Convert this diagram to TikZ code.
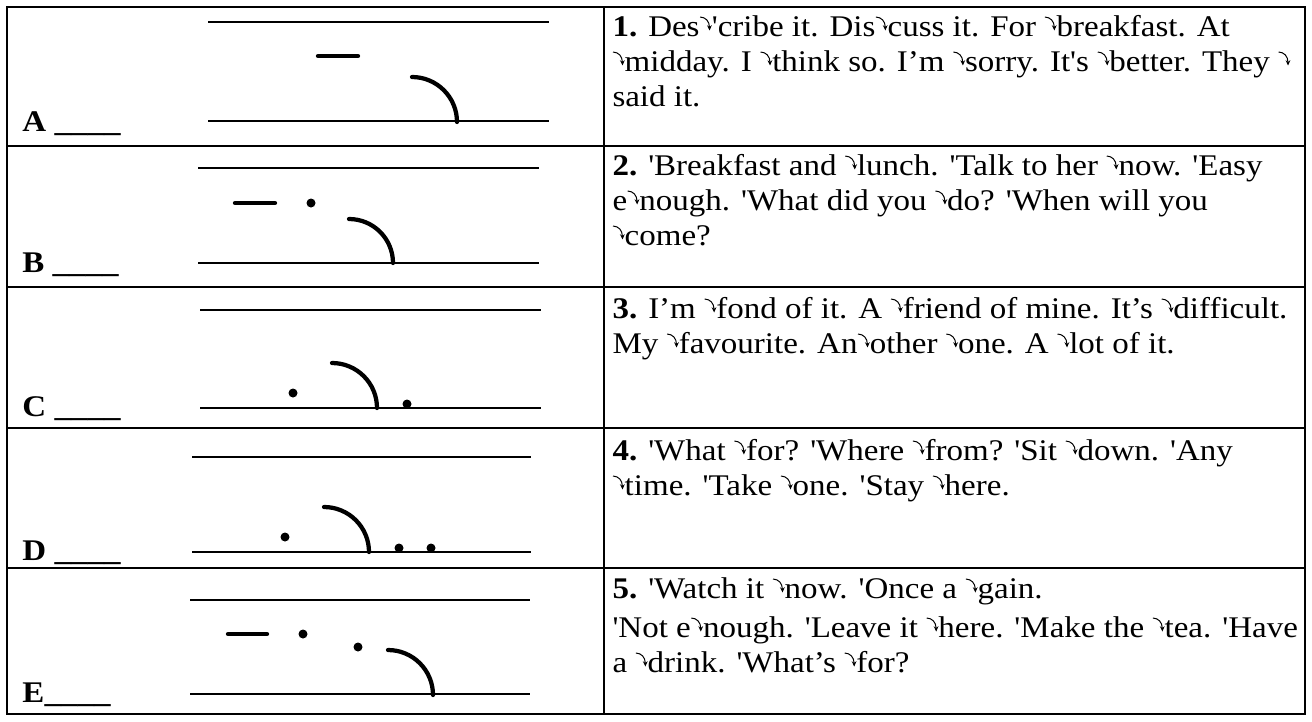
\documentclass[tikz,border=0pt]{standalone}
\usepackage{fontspec}
\newfontfamily\tnr{Liberation Serif}[FakeStretch=1.1]
\usetikzlibrary{arrows.meta}
\newcommand\fa{\tikz[baseline=0pt,x=1pt,y=1pt]\draw[line width=0.4pt,-{Stealth[length=2.1pt,width=1.9pt]}] (0.2,7.6) .. controls (2.4,7.5) and (3.9,6) .. (4,2.2);}
\newcommand\fallarc[3]{\draw[tonebar] (#1,#2) .. controls ({#1+0.552*#3},#2) and ({#1+#3},{#2+0.448*#3}) .. ({#1+#3},{#2+#3});}
\begin{document}
\begin{tikzpicture}[x=0.4pt,y=-0.4pt,
  border/.style={line width=1.1pt},
  staffline/.style={line width=0.6pt},
  tonebar/.style={line width=1.7pt,line cap=round},
  tdot/.style={fill=black},
  txt/.style={anchor=base west,inner sep=0pt,font=\tnr\fontsize{12pt}{14pt}\selectfont},
  lbl/.style={anchor=base west,inner sep=0pt,font=\tnr\bfseries\fontsize{12pt}{14pt}\selectfont}]
\useasboundingbox (0,0) rectangle (1312,721);
% table
\draw[border] (7,7) rectangle (1305,714);
\draw[border] (604,7) -- (604,714);
\foreach \yy in {146,287,428,568} \draw[border] (7,\yy) -- (1305,\yy);
% labels
\node[lbl] (la) at (22,131) {A \_\_\_\_};
\node[lbl] (lb) at (22,272) {B \_\_\_\_};
\node[lbl] (lc) at (22,416) {C \_\_\_\_};
\node[lbl] (ld) at (22,560) {D \_\_\_\_};
\node[lbl] (le) at (22,702) {E\_\_\_\_};
% row A
\draw[staffline] (208,22) -- (549,22);
\draw[staffline] (208,121) -- (549,121);
\draw[tonebar] (318,56) -- (358,56);
\fallarc{412}{77}{45}
% row B
\draw[staffline] (198,168) -- (539,168);
\draw[staffline] (198,263) -- (539,263);
\draw[tonebar] (235,203) -- (275,203);
\fill[tdot] (311,203) circle[radius=4.5];
\fallarc{349}{219}{44}
% row C
\draw[staffline] (200,310) -- (541,310);
\draw[staffline] (200,408) -- (541,408);
\fill[tdot] (293,393) circle[radius=4.5];
\fallarc{332}{363}{45}
\fill[tdot] (407,404) circle[radius=4.5];
% row D
\draw[staffline] (192,457) -- (531,457);
\draw[staffline] (192,552) -- (531,552);
\fill[tdot] (285,537) circle[radius=4.5];
\fallarc{324}{507}{45}
\fill[tdot] (399,548) circle[radius=4.5];
\fill[tdot] (431,548) circle[radius=4.5];
% row E
\draw[staffline] (190,600) -- (530,600);
\draw[staffline] (190,694) -- (530,694);
\draw[tonebar] (228,634) -- (267,634);
\fill[tdot] (303,634) circle[radius=4.5];
\fill[tdot] (358,647) circle[radius=4.5];
\fallarc{388}{650}{45}
% texts row 1
\node[txt] (t1a) at (612,36) {\textbf{1.} Des\fa'cribe it. Dis\fa cuss it. For \fa breakfast. At};
\node[txt] (t1b) at (612,71) {\fa midday. I \fa think so. I’m \fa sorry. It's \fa better. They \fa};
\node[txt] (t1c) at (612,106) {said it.};
% row 2
\node[txt] (t2a) at (612,175) {\textbf{2.} 'Breakfast and \fa lunch. 'Talk to her \fa now. 'Easy};
\node[txt] (t2b) at (612,210) {e\fa nough. 'What did you \fa do? 'When will you};
\node[txt] (t2c) at (612,245) {\fa come?};
% row 3
\node[txt] (t3a) at (612,318) {\textbf{3.} I’m \fa fond of it. A \fa friend of mine. It’s \fa difficult.};
\node[txt] (t3b) at (612,353) {My \fa favourite. An\fa other \fa one. A \fa lot of it.};
% row 4
\node[txt] (t4a) at (612,460) {\textbf{4.} 'What \fa for? 'Where \fa from? 'Sit \fa down. 'Any};
\node[txt] (t4b) at (612,495) {\fa time. 'Take \fa one. 'Stay \fa here.};
% row 5
\node[txt] (t5a) at (612,598) {\textbf{5.} 'Watch it \fa now. 'Once a \fa gain.};
\node[txt] (t5b) at (612,637) {'Not e\fa nough. 'Leave it \fa here. 'Make the \fa tea. 'Have};
\node[txt] (t5c) at (612,672) {a \fa drink. 'What’s \fa for?};
\end{tikzpicture}
\end{document}
